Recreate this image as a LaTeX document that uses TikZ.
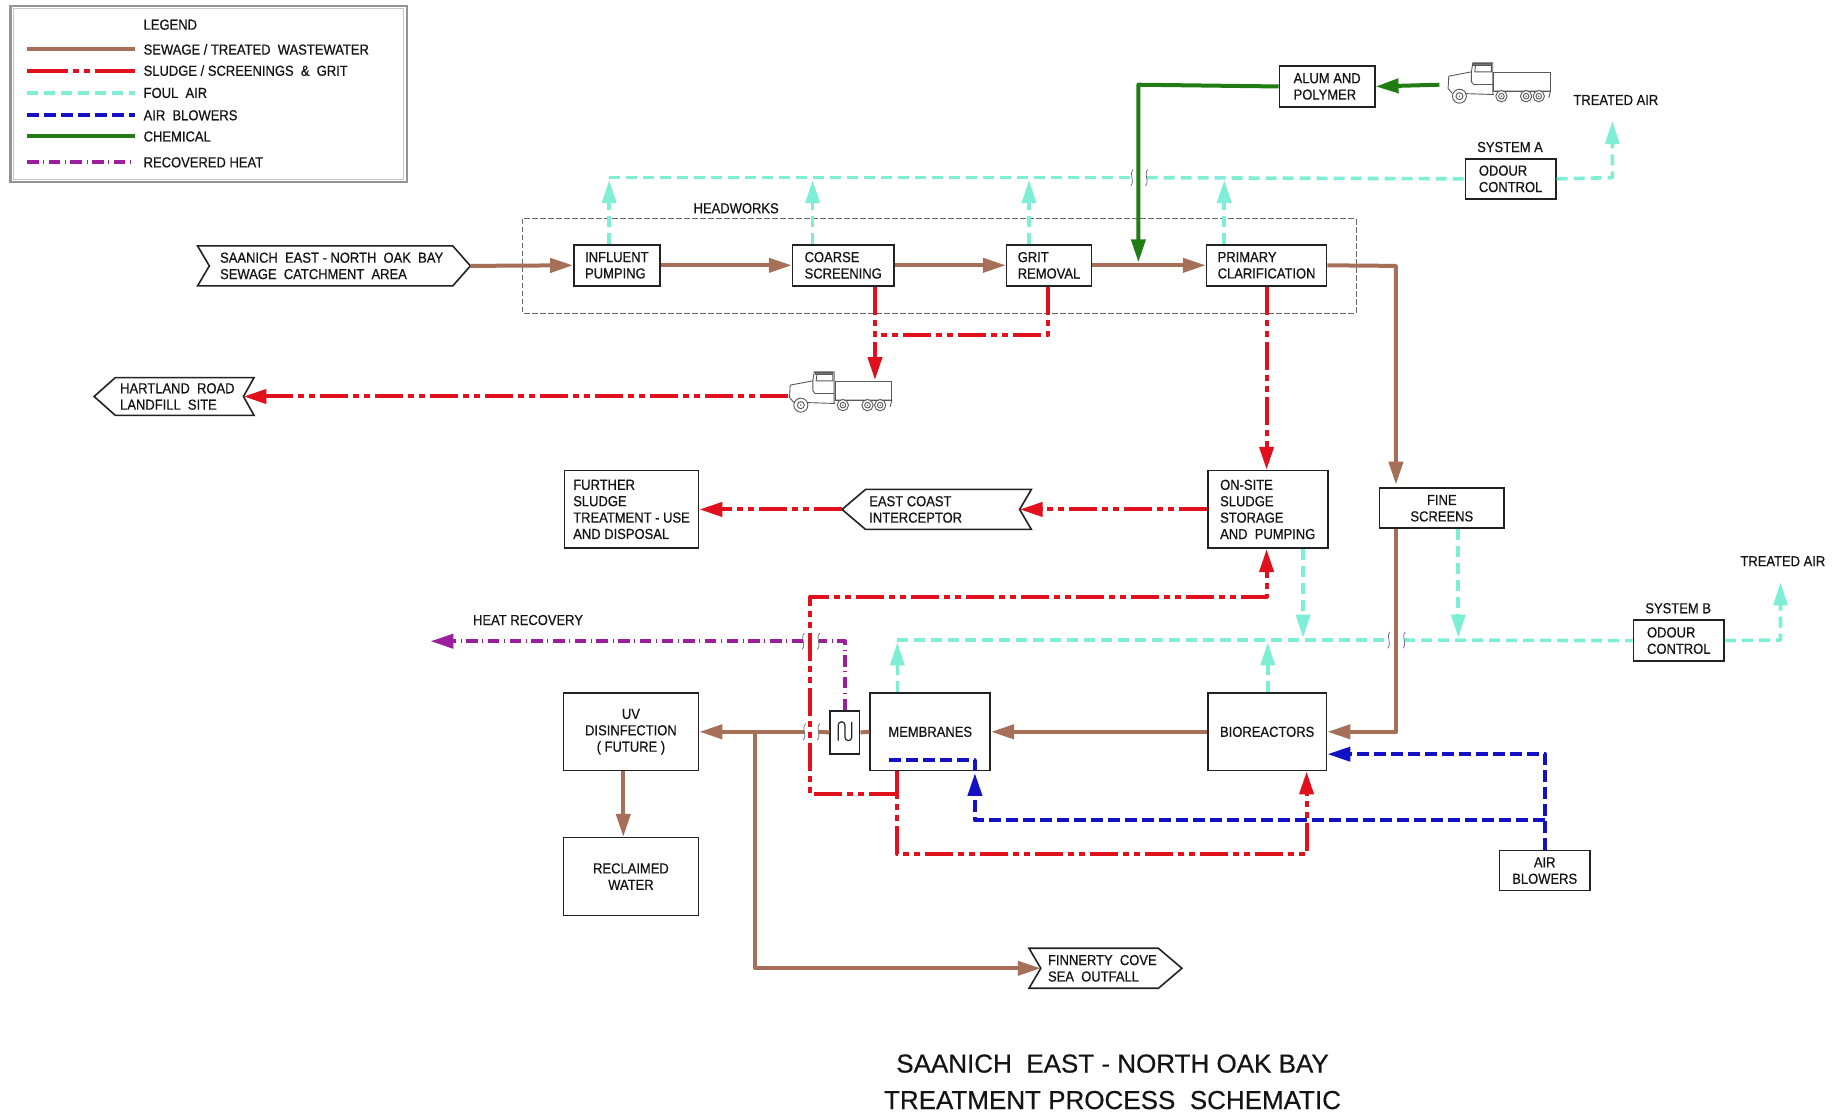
\documentclass[tikz,border=0pt]{standalone}
\usepackage{fontspec}
\setmainfont{Liberation Sans}
\newfontfamily\dfont[FakeStretch=0.895,FakeBold=0.6]{Liberation Sans}
\newfontfamily\tfont[FakeBold=0.4]{Liberation Sans}
\usetikzlibrary{arrows.meta,calc}
\definecolor{cbrown}{HTML}{A66F58}
\definecolor{cred}{HTML}{E0101C}
\definecolor{cfoul}{HTML}{7FEED6}
\definecolor{cblue}{HTML}{1212C4}
\definecolor{cgreen}{HTML}{1F7D14}
\definecolor{cpurple}{HTML}{9C1E9C}
\definecolor{cbox}{HTML}{222222}
\tikzset{
  txt/.style={font=\dfont\fontsize{14.5}{16.4}\selectfont,align=left,inner sep=0pt,text=black!92},
  box/.style={txt,draw=cbox,line width=1.6pt,fill=white,inner sep=0pt},
  ctr/.style={align=center},
  outline/.style={draw=cbox,line width=1.6pt,fill=white,line join=miter},
  flowbase/.style={line width=4pt,line join=round},
  sewage/.style={flowbase,cbrown},
  sludge/.style={flowbase,cred,dash pattern=on 28pt off 5pt on 6pt off 5pt on 6pt off 5pt},
  sludgeleg/.style={flowbase,cred,dash pattern=on 41pt off 5pt on 6pt off 5pt on 6pt off 5pt},
  foul/.style={flowbase,line width=3.6pt,cfoul,dash pattern=on 11pt off 6pt},
  blower/.style={flowbase,cblue,dash pattern=on 12pt off 5pt},
  chem/.style={flowbase,cgreen},
  heat/.style={flowbase,cpurple,dash pattern=on 11.5pt off 4.6pt on 1pt off 4.6pt},
  head/.style={-{Triangle[length=23pt,width=14pt]}},
  breakmark/.style={draw=black!60,line width=.7pt},
  pics/lorry/.style={code={
    \begin{scope}[scale=.2834,shift={(-85,-90)},draw=black!65,line width=.9pt]
      \draw (225,125) rectangle (395,180);
      \draw (90,135) -- (158,122) -- (162,95) -- (222,95) -- (222,188);
      \draw (90,135) -- (88,172) -- (100,186) -- (225,190);
      \draw (158,122) -- (158,152) -- (165,160) -- (222,160);
      \draw[fill=black!55] (165,98) rectangle (218,104);
      \draw (170,104) -- (168,122) -- (218,122) -- (218,104);
      \draw (225,180) -- (395,180) -- (390,200);
      \foreach \wx/\wr in {122/21,248/17,322/17,360/17}{
        \draw[fill=white] (\wx,195) circle[radius=\wr];
        \draw (\wx,195) circle[radius=.5*\wr];
        \fill[black!65] (\wx,195) circle[radius=2.5];
      }
    \end{scope}
  }}
}
\newcommand{\bx}[7][]{%
  \pgfmathsetmacro\bw{(#5-#3)*1.176}\pgfmathsetmacro\bh{(#6-#4)*1.1765}%
  \node[box,#1,minimum width=\bw pt,minimum height=\bh pt] (#2) at ({(#3+#5)/2},{(#4+#6)/2}) {#7};}
\newcommand{\brk}[2]{\draw[breakmark] ({#1+1},{#2-7}) .. controls ({#1-3},{#2-2}) and ({#1+3},{#2+2}) .. ({#1-1},{#2+7});}
\begin{document}
\begin{tikzpicture}[x=1.176pt,y=-1.1765pt]
\useasboundingbox (0,0) rectangle (1568,946);
% legend
\draw[draw=black!42,line width=2.2pt,fill=white] (9,5) rectangle (346,155);
\draw[draw=black!22,line width=1pt] (11.5,7.5) rectangle (343.5,152.5);
\node[txt,anchor=west] (lgt) at (122,21) {LEGEND};
\foreach \nm/\st/\yy/\tx in {a/sewage/42/{SEWAGE / TREATED\ \ WASTEWATER},b/sludgeleg/60/{SLUDGE / SCREENINGS\ \ \&\ \ GRIT},c/foul/79/{FOUL\ \ AIR},d/blower/98/{AIR\ \ BLOWERS},e/chem/116/{CHEMICAL},f/heat/138/{RECOVERED HEAT}}{
  \node[txt,anchor=west] (lg\nm) at (122,\yy) {\tx};
  \coordinate (ls\nm) at (23,\yy);
  \draw[\st] (ls\nm) -- (lg\nm.west -| 115,0);
}
% headworks
\draw[draw=black!60,line width=.8pt,dash pattern=on 5.5pt off 2.5pt] (444,186) rectangle (1153,266);
\node[txt] (hw) at (626,177) {HEADWORKS};
% boxes
\bx{influent}{488}{208}{561}{243}{INFLUENT\\PUMPING}
\bx{coarse}{674}{208}{760}{243}{COARSE\\SCREENING}
\bx{grit}{856}{208}{928}{243}{GRIT\\REMOVAL}
\bx{primary}{1026}{208}{1128}{243}{PRIMARY\\CLARIFICATION}
\bx{alum}{1088}{56}{1169}{91}{ALUM AND\\POLYMER}
\bx{odoura}{1246}{135}{1323}{169}{ODOUR\\CONTROL}
\node[txt] (sysa) at (1284,125) {SYSTEM A};
\node[txt] (ta) at (1374,85) {TREATED AIR};
\bx{further}{480}{400}{594}{466}{FURTHER\\SLUDGE\\TREATMENT - USE\\AND DISPOSAL}
\bx{onsite}{1027}{400}{1129}{466}{ON-SITE\\SLUDGE\\STORAGE\\AND\ \ PUMPING}
\bx[ctr]{fine}{1173}{415}{1279}{449}{FINE\\SCREENS}
\bx{odourb}{1389}{527}{1466}{562}{ODOUR\\CONTROL}
\node[txt] (sysb) at (1427,517) {SYSTEM B};
\node[txt] (tb) at (1516,477) {TREATED AIR};
\bx{bio}{1027}{589}{1128}{655}{BIOREACTORS}
\bx{mem}{740}{589}{842}{655}{MEMBRANES}
\bx[ctr]{uv}{479}{589}{594}{655}{UV\\DISINFECTION\\( FUTURE )}
\bx[ctr]{reclaim}{479}{712}{594}{778}{RECLAIMED\\WATER}
\bx[ctr]{blowers}{1275}{723}{1352}{757}{AIR\\BLOWERS}
\node[txt] (hr) at (449,527) {HEAT RECOVERY};
% heat exchanger
\node[draw=cbox,line width=1.6pt,fill=white,minimum width=29.4pt,minimum height=42.8pt,inner sep=0pt] (hx) at (718.5,622.5) {};
\draw[black!85,line width=1.2pt,rounded corners=3.2pt] ($(hx)+(-5.7,7)$) -- ($(hx)+(-5.7,-9)$) -- ($(hx)+(0,-9)$) -- ($(hx)+(0,7)$) -- ($(hx)+(5.7,7)$) -- ($(hx)+(5.7,-9)$);
% pentagon outlines with labels
\draw[outline] (168,209) -- (385,209) -- (400,226) -- (385,243) -- (168,243) -- (178,226) -- cycle;
\coordinate (saatip) at (400,226);
\node[txt,anchor=west] (saanich) at (187,226) {SAANICH\ \ EAST - NORTH\ \ OAK\ \ BAY\\SEWAGE\ \ CATCHMENT\ \ AREA};
\draw[outline] (80,337) -- (98,321) -- (216,321) -- (207,337) -- (216,353) -- (98,353) -- cycle;
\coordinate (hartip) at (207,337);
\node[txt,anchor=west] (hartland) at (102,337) {HARTLAND\ \ ROAD\\LANDFILL\ \ SITE};
\draw[outline] (716,433) -- (736,416) -- (877,416) -- (867,433) -- (877,450) -- (736,450) -- cycle;
\coordinate (eciin) at (867,433);
\coordinate (eciout) at (716,433);
\node[txt,anchor=west] (eci) at (739,433) {EAST COAST\\INTERCEPTOR};
\draw[outline] (875,806) -- (985,806) -- (1005,823) -- (985,840) -- (875,840) -- (885,823) -- cycle;
\coordinate (finin) at (885,823);
\node[txt,anchor=west] (finn) at (891,823) {FINNERTY\ \ COVE\\SEA\ \ OUTFALL};
% trucks
\pic (lorrya) at (670.5,314.6) {lorry};
\pic (lorryb) at (1230.5,52) {lorry};
\coordinate (tra) at (670,337);
\coordinate (tratop) at (744,323);
\coordinate (trb) at (1224,72);
% sewage
\draw[sewage,head] (saatip) -- (influent.west);
\draw[sewage,head] (influent.east) -- (coarse.west);
\draw[sewage,head] (coarse.east) -- (grit.west);
\draw[sewage,head] (grit.east) -- (primary.west);
\coordinate (sj1) at (1187,226);
\draw[sewage,head] (primary.east) -- (sj1) -- (1187,412);
\coordinate (sj2) at (1187,622);
\draw[sewage,head] (fine.south -| sj2) -- (sj2) -- (bio.east);
\draw[sewage,head] (bio.west) -- (mem.east);
\draw[sewage] (mem.west) -- (hx.east);
\coordinate (bra) at (696,622);
\coordinate (brb) at (684,622);
\draw[sewage] (hx.west) -- (bra);
\draw[sewage,head] (brb) -- (uv.east);
\coordinate (sj3) at (642,622);
\draw[sewage,head] (sj3) -- (sj3 |- finin) -- (finin);
\draw[sewage,head] (uv.south -| 530,0) -- (reclaim.north -| 530,0);
\brk{696}{622}\brk{684}{622}
% foul air system A
\coordinate (fa1) at (518,151);
\coordinate (fa2) at (691,151);
\coordinate (fa3) at (875,151);
\coordinate (fa4) at (1041,151);
\coordinate (fbl) at (962.5,151);
\coordinate (fbr) at (975,151);
\draw[foul] (fa1) -- (fbl);
\draw[foul] (fbr) -- (odoura.west);
\draw[foul,head] (influent.north -| fa1) -- ($(fa1)+(0,2)$);
\draw[foul,head] (coarse.north -| fa2) -- ($(fa2)+(0,2)$);
\draw[foul,head] (grit.north -| fa3) -- ($(fa3)+(0,2)$);
\draw[foul,head] (primary.north -| fa4) -- ($(fa4)+(0,2)$);
\coordinate (taj) at (1371,151);
\draw[foul,head] (odoura.east) -- (taj) -- (1371,103);
\brk{962.5}{151}\brk{975}{151}
% foul air system B
\coordinate (fb1) at (763,544);
\coordinate (fb2) at (1078,544);
\coordinate (fb3) at (1108,544);
\coordinate (fb4) at (1240,544);
\coordinate (fbbl) at (1181,544);
\coordinate (fbbr) at (1194,544);
\draw[foul] (fb1) -- (fbbl);
\draw[foul] (fbbr) -- (odourb.west);
\draw[foul,head] (mem.north -| fb1) -- ($(fb1)+(0,2)$);
\draw[foul,head] (bio.north -| fb2) -- ($(fb2)+(0,2)$);
\draw[foul,head] (onsite.south -| fb3) -- ($(fb3)+(0,-2)$);
\draw[foul,head] (fine.south -| fb4) -- ($(fb4)+(0,-2)$);
\coordinate (tbj) at (1514,544);
\draw[foul,head] (odourb.east) -- (tbj) -- (1514,495);
\brk{1181}{544}\brk{1194}{544}
% chemical
\draw[chem,head] (trb) -- (alum.east);
\coordinate (cj) at (968,72);
\draw[chem,head] (alum.west) -- (cj) -- (968,223);
% sludge
\coordinate (g1) at (891,285);
\coordinate (cs) at (744,285);
\draw[sludge,head] (coarse.south -| tratop) -- (tratop);
\draw[sludge] (grit.south -| g1) -- (g1) -- (cs);
\draw[sludge,head] (tra) -- (hartip);
\draw[sludge,head] (primary.south -| 1077,0) -- (onsite.north -| 1077,0);
\draw[sludge,head] (onsite.west) -- (eciin);
\draw[sludge,head] (eciout) -- (further.east);
\coordinate (m1) at (763,726);
\coordinate (m2) at (1111,726);
\coordinate (m3) at (763,675);
\coordinate (m4) at (689,675);
\coordinate (m5) at (689,507);
\coordinate (m6) at (1077,507);
\draw[sludge,head] (mem.south -| m1) -- (m1) -- (m2) -- (bio.south -| m2);
\draw[sludge,head] (m3) -- (m4) -- (m5) -- (m6) -- (onsite.south -| m6);
% heat
\coordinate (h1) at (718.5,545);
\coordinate (hbl) at (696,545);
\coordinate (hbr) at (683,545);
\coordinate (hend) at (366,545);
\draw[heat] (hx.north) -- (h1) -- (hbl);
\draw[heat,head] (hbr) -- (hend);
\brk{696}{545}\brk{683}{545}
% air blowers
\coordinate (b1) at (1314,697);
\coordinate (b2) at (1314,641);
\coordinate (b3) at (829,697);
\coordinate (b4) at (829,646);
\coordinate (b5) at (756,646);
\draw[blower,head] (blowers.north -| b1) -- (b2) -- (bio.east |- b2);
\draw[blower,head] (b1) -- (b3) -- (829,657);
\draw[blower] (829,655) -- (b4) -- (b5);
% title
\node[font=\tfont\fontsize{26}{30}\selectfont,inner sep=0pt,text=black!92] (t1) at (946,904) {SAANICH\ \ EAST - NORTH OAK BAY};
\node[font=\tfont\fontsize{26}{30}\selectfont,inner sep=0pt,text=black!92] (t2) at (946,935) {TREATMENT PROCESS\ \ SCHEMATIC};
\end{tikzpicture}
\end{document}
